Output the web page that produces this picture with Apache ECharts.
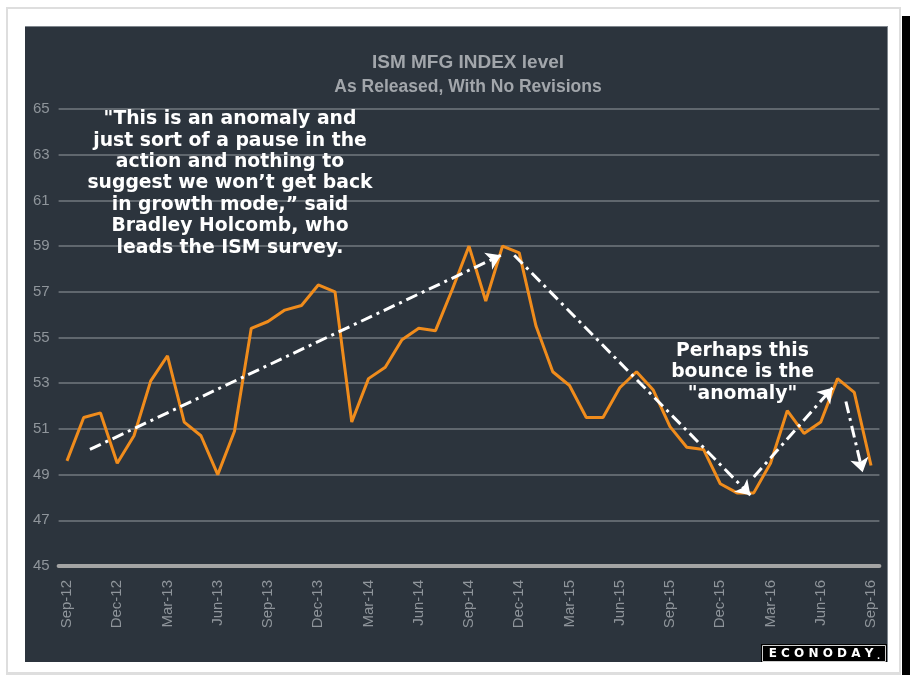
<!DOCTYPE html>
<html>
<head>
<meta charset="utf-8">
<script src="https://cdn.jsdelivr.net/npm/echarts@6/dist/echarts.min.js"></script>
<style>
  html, body { margin: 0; padding: 0; background: #fff; }
  .page { position: relative; width: 916px; height: 675px; overflow: hidden; }
  .frame { position: absolute; left: 6px; top: 7px; width: 895px; height: 668px;
           box-sizing: border-box; border: 2px solid #dedede; border-bottom-width: 3px; background: #fff; }
  .shadow { position: absolute; left: 902px; top: 16px; width: 8px; height: 659px; background: #000; }
  #chart { position: absolute; left: 25px; top: 26px; width: 863px; height: 636px;
           box-sizing: border-box; border-top: 1px solid #7f868d; border-right: 1px solid #7f868d; }
</style>
</head>
<body>
<div class="page">
  <div class="frame"></div>
  <div class="shadow"></div>
  <div id="chart"></div>
</div>
<script>
// monthly labels, one per release
const months = [
  'Sep-12', 'Oct-12', 'Nov-12', 'Dec-12', 'Jan-13', 'Feb-13', 'Mar-13', 'Apr-13', 'May-13', 'Jun-13',
  'Jul-13', 'Aug-13', 'Sep-13', 'Oct-13', 'Nov-13', 'Dec-13', 'Jan-14', 'Feb-14', 'Mar-14', 'Apr-14',
  'May-14', 'Jun-14', 'Jul-14', 'Aug-14', 'Sep-14', 'Oct-14', 'Nov-14', 'Dec-14', 'Jan-15', 'Feb-15',
  'Mar-15', 'Apr-15', 'May-15', 'Jun-15', 'Jul-15', 'Aug-15', 'Sep-15', 'Oct-15', 'Nov-15', 'Dec-15',
  'Jan-16', 'Feb-16', 'Mar-16', 'Apr-16', 'May-16', 'Jun-16', 'Jul-16', 'Aug-16', 'Sep-16'
];

// ISM manufacturing index, as released
const ismLevel = [
  49.6, 51.5, 51.7, 49.5, 50.7, 53.1, 54.2, 51.3, 50.7, 49.0,
  50.9, 55.4, 55.7, 56.2, 56.4, 57.3, 57.0, 51.3, 53.2, 53.7,
  54.9, 55.4, 55.3, 57.1, 59.0, 56.6, 59.0, 58.7, 55.5, 53.5,
  52.9, 51.5, 51.5, 52.8, 53.5, 52.7, 51.1, 50.2, 50.1, 48.6,
  48.2, 48.2, 49.5, 51.8, 50.8, 51.3, 53.2, 52.6, 49.4
];

// trend arrows: [fromMonthIndex, fromLevel, toMonthIndex, toLevel]
const arrows = [
  [1.37, 50.1, 25.9, 58.6],
  [26.7, 58.6, 40.8, 48.1],
  [41.0, 48.9, 45.7, 52.8],
  [46.5, 52.2, 47.5, 49.1]
];

const quoteText = '"This is an anomaly and\njust sort of a pause in the\naction and nothing to\nsuggest we won\u2019t get back\nin growth mode,\u201d said\nBradley Holcomb, who\nleads the ISM survey.';
const bounceText = 'Perhaps this\nbounce is the\n"anomaly"';

const chart = echarts.init(document.getElementById('chart'));

const option = {
  backgroundColor: '#2c343d',
  animation: false,
  textStyle: { fontFamily: '"Liberation Sans", Arial, sans-serif' },
  grid: { left: 33.6, right: 7.6, top: 82, bottom: 96 },
  xAxis: [
    {
      type: 'category',
      data: months,
      boundaryGap: true,
      axisLine: { lineStyle: { color: '#a4a4a4', width: 4 } },
      axisTick: { show: false },
      axisLabel: {
        interval: 2,
        rotate: 90,
        margin: 14,
        color: '#8f959b',
        fontSize: 15
      },
      splitLine: { show: false }
    },
    {
      type: 'value',
      min: -0.5,
      max: 48.5,
      show: false
    }
  ],
  yAxis: {
    type: 'value',
    min: 45,
    max: 65,
    interval: 1,
    axisLine: { show: false },
    axisTick: { show: false },
    axisLabel: {
      color: '#8f959b',
      fontSize: 15,
      margin: 9,
      formatter: (v) => (v % 2 === 1 ? String(v) : '')
    },
    splitLine: {
      lineStyle: { color: ['#60676e', 'rgba(0,0,0,0)'], width: 2 }
    }
  },
  series: [
    {
      name: 'ISM MFG INDEX level',
      type: 'line',
      data: ismLevel,
      symbol: 'none',
      lineStyle: { color: '#f08c1c', width: 3 },
      z: 3
    },
    {
      name: 'arrows',
      type: 'line',
      xAxisIndex: 1,
      data: arrows.map(a => [a[0], a[1]]),
      symbol: 'none',
      lineStyle: { opacity: 0 },
      silent: true,
      z: 4,
      markLine: {
        silent: true,
        symbol: ['none', 'arrow'],
        symbolSize: 14,
        label: { show: false },
        lineStyle: { color: '#ffffff', width: 3, type: [12, 5, 3, 5], opacity: 1 },
        emphasis: { disabled: true },
        data: arrows.map(a => [{ coord: [a[0], a[1]] }, { coord: [a[2], a[3]] }])
      }
    }
  ],
  graphic: [
    {
      type: 'text', x: 443, y: 36,
      style: {
        text: 'ISM MFG INDEX level', fill: '#a2a6ab',
        font: 'bold 19px "Liberation Sans", Arial, sans-serif',
        textAlign: 'center', textVerticalAlign: 'middle'
      }
    },
    {
      type: 'text', x: 443, y: 60,
      style: {
        text: 'As Released, With No Revisions', fill: '#a2a6ab',
        font: 'bold 17.5px "Liberation Sans", Arial, sans-serif',
        textAlign: 'center', textVerticalAlign: 'middle'
      }
    },
    {
      type: 'text', x: 205, y: 81.6, z: 10,
      style: {
        text: quoteText, fill: '#ffffff',
        font: 'bold 18.8px "DejaVu Sans", Verdana, sans-serif',
        lineHeight: 21.4, textAlign: 'center', textVerticalAlign: 'top'
      }
    },
    {
      type: 'text', x: 717.5, y: 313, z: 10,
      style: {
        text: bounceText, fill: '#ffffff',
        font: 'bold 18.8px "DejaVu Sans", Verdana, sans-serif',
        lineHeight: 21.5, textAlign: 'center', textVerticalAlign: 'top'
      }
    },
    {
      type: 'group', x: 736, y: 617, z: 10,
      children: [
        { type: 'rect', shape: { x: 0, y: 0, width: 126, height: 19 }, style: { fill: '#000' } },
        { type: 'rect', shape: { x: 1.5, y: 1.5, width: 123, height: 16 }, style: { fill: 'none', stroke: '#cfcfcf', lineWidth: 1 } },
        {
          type: 'text', x: 60, y: 10,
          style: {
            text: 'E C O N O D A Y', fill: '#ffffff',
            font: 'bold 12px "DejaVu Sans", sans-serif',
            textAlign: 'center', textVerticalAlign: 'middle'
          }
        },
        {
          type: 'text', x: 116, y: 13,
          style: { text: '.', fill: '#ffffff', font: 'bold 8px "DejaVu Sans", sans-serif', textAlign: 'left', textVerticalAlign: 'middle' }
        }
      ]
    }
  ]
};

chart.setOption(option);
</script>
</body>
</html>
